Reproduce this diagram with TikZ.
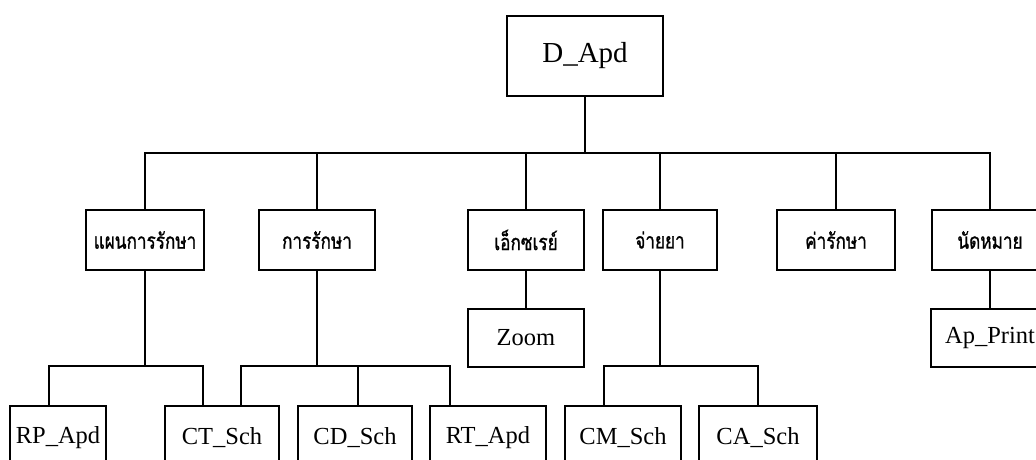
\documentclass[tikz,border=0pt]{standalone}
\usepackage{fontspec}
\setmainfont{Liberation Serif}
\newfontfamily\thaifont[Script=Thai,FakeStretch=0.78,FakeBold=1]{Loma}
\begin{document}
\begin{tikzpicture}[x=1pt,y=-1pt, line width=2pt,
  box/.style={draw, rectangle, inner sep=0pt, minimum height=60pt},
  latin/.style={box, font=\fontsize{24.5}{28}\selectfont},
  thai/.style={box, font=\thaifont\fontsize{22}{26}\selectfont}]
\clip (0,0) rectangle (1036,459);

% root
\node[box, minimum width=156pt, minimum height=80pt,
      font=\fontsize{29}{33}\selectfont] (root) at (585,56) {D\_Apd};

% second level
\node[thai, minimum width=118pt] (plan)  at (145,240) {แผนการรักษา};
\node[thai, minimum width=116pt] (treat) at (317,240) {การรักษา};
\node[thai, minimum width=116pt] (xray)  at (526,240) {เอ็กซเรย์};
\node[thai, minimum width=114pt] (drug)  at (660,240) {จ่ายยา};
\node[thai, minimum width=118pt] (fee)   at (836,240) {ค่ารักษา};
\node[thai, minimum width=116pt] (appt)  at (990,240) {นัดหมาย};

% third level
\node[latin, minimum width=116pt, minimum height=58pt] (zoom)  at (526,338) {Zoom};
\node[latin, minimum width=118pt, minimum height=58pt] (print) at (990,338) {Ap\_Print};

\node[latin, minimum width=96pt,  minimum height=64pt] (rp) at (58,438)  {RP\_Apd};
\node[latin, minimum width=114pt, minimum height=64pt] (ct) at (222,438) {CT\_Sch};
\node[latin, minimum width=114pt, minimum height=64pt] (cd) at (355,438) {CD\_Sch};
\node[latin, minimum width=116pt, minimum height=64pt] (rt) at (488,438) {RT\_Apd};
\node[latin, minimum width=116pt, minimum height=64pt] (cm) at (623,438) {CM\_Sch};
\node[latin, minimum width=118pt, minimum height=64pt] (ca) at (758,438) {CA\_Sch};

% bus ends
\coordinate (busL) at (145,153);
\coordinate (busR) at (990,153);
\coordinate (planL) at (49,366);
\coordinate (planR) at (203,366);
\coordinate (treatL) at (241,366);
\coordinate (treatM) at (358,366);
\coordinate (treatR) at (450,366);
\coordinate (drugL) at (604,366);
\coordinate (drugR) at (758,366);

% root to second level
\draw (root.south) -- (root.south |- busL);
\draw (plan.north) -- (busL) -- (busR) -- (appt.north);
\draw (treat.north) -- (treat.north |- busL);
\draw (xray.north)  -- (xray.north |- busL);
\draw (drug.north)  -- (drug.north |- busL);
\draw (fee.north)   -- (fee.north |- busL);

% second to third level
\draw (plan.south) -- (plan.south |- planL);
\draw (rp.north -| planL) -- (planL) -- (planR) -- (ct.north -| planR);
\draw (treat.south) -- (treat.south |- treatL);
\draw (ct.north -| treatL) -- (treatL) -- (treatR) -- (rt.north -| treatR);
\draw (treatM) -- (cd.north -| treatM);
\draw (xray.south) -- (zoom.north);
\draw (drug.south) -- (drug.south |- drugL);
\draw (cm.north -| drugL) -- (drugL) -- (drugR) -- (ca.north -| drugR);
\draw (appt.south) -- (print.north);
\end{tikzpicture}
\end{document}
